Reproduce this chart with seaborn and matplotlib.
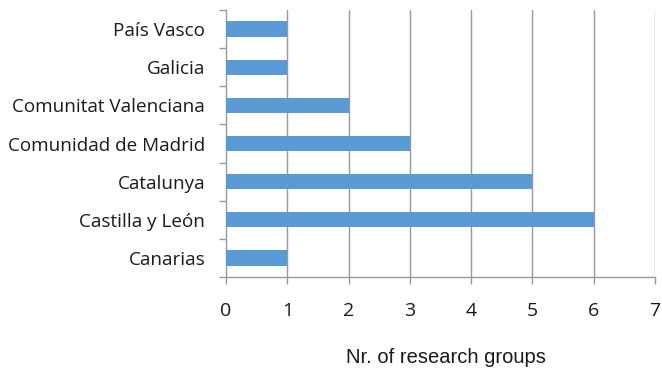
import matplotlib
matplotlib.use("Agg")
import matplotlib.pyplot as plt
import seaborn as sns
import pandas as pd

regions = ["País Vasco", "Galicia", "Comunitat Valenciana", "Comunidad de Madrid",
           "Catalunya", "Castilla y León", "Canarias"]
groups = [1, 1, 2, 3, 5, 6, 1]
x_ticks = [0, 1, 2, 3, 4, 5, 6, 7]

df = pd.DataFrame({"region": regions, "groups": groups})

sns.set_theme(style="white")
plt.rcParams["font.family"] = ["Open Sans", "DejaVu Sans"]

fig = plt.figure(figsize=(6.62, 3.72), dpi=100)
ax = fig.add_axes([0.3414, 0.2554, 0.648, 0.7176])

sns.barplot(data=df, x="groups", y="region", orient="h", color="#5B9BD5",
            saturation=1, width=0.4, linewidth=0, ax=ax, zorder=3)

ax.set_xlim(0, 7)
ax.set_xticks(x_ticks)
ax.set_xticklabels([str(t) for t in x_ticks], fontsize=14)
ax.set_ylim(len(regions) - 0.5, -0.5)
ax.set_yticks([i - 0.5 for i in range(len(regions) + 1)], minor=False)
ax.set_yticklabels([])
ax.set_yticks(range(len(regions)), minor=True)
ax.set_yticklabels(regions, minor=True, fontsize=13.6)
ax.tick_params(axis="y", which="minor", length=0, pad=15)
ax.tick_params(axis="y", which="major", length=5, width=1, color="#999999", direction="out", left=True)
ax.tick_params(axis="x", length=5, width=1, color="#999999", direction="out", bottom=True, pad=13)

for t in x_ticks[1:]:
    ax.axvline(t, color="#999999", lw=1, zorder=1)

for side in ["top", "right"]:
    ax.spines[side].set_visible(False)
for side in ["left", "bottom"]:
    ax.spines[side].set_color("#999999")
    ax.spines[side].set_linewidth(1)

ax.set_ylabel("")
ax.set_xlabel("Nr. of research groups", family=["Liberation Sans", "DejaVu Sans"],
              fontsize=14.5, color="#1a1a1a")
ax.xaxis.set_label_coords(0.512, -0.30)
ax.xaxis.label.set_verticalalignment("center")
for lbl in ax.get_xticklabels() + ax.get_yticklabels(minor=True):
    lbl.set_color("#1a1a1a")

fig.savefig("out.png", dpi=100, facecolor="white")
